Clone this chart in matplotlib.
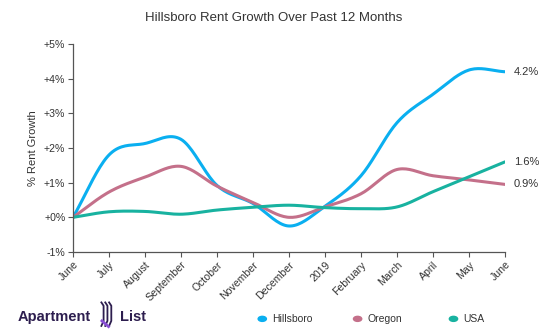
import numpy as np
import matplotlib
matplotlib.use("Agg")
import matplotlib.pyplot as plt

plt.rcParams['font.family'] = ['Liberation Sans', 'DejaVu Sans']

months = ["June", "July", "August", "September", "October", "November", "December",
          "2019", "February", "March", "April", "May", "June"]
hillsboro = [0.0, 1.8, 2.13, 2.25, 0.92, 0.4, -0.25, 0.32, 1.2, 2.73, 3.55, 4.25, 4.2]
oregon = [0.0, 0.73, 1.16, 1.47, 0.9, 0.43, 0.0, 0.3, 0.68, 1.38, 1.2, 1.08, 0.95]
usa = [0.0, 0.16, 0.17, 0.09, 0.21, 0.29, 0.35, 0.28, 0.25, 0.3, 0.74, 1.17, 1.6]
end_labels = ["4.2%", "0.9%", "1.6%"]
series_names = ["Hillsboro", "Oregon", "USA"]
colors = ["#0aaff0", "#c4708a", "#18b2a0"]
yticks = [-1, 0, 1, 2, 3, 4, 5]


def catmull(x, y, n=20):
    x = np.asarray(x, float)
    y = np.asarray(y, float)
    px = np.concatenate([[2 * x[0] - x[1]], x, [2 * x[-1] - x[-2]]])
    py = np.concatenate([[2 * y[0] - y[1]], y, [2 * y[-1] - y[-2]]])
    xs, ys = [], []
    t = np.linspace(0, 1, n, endpoint=False)
    for i in range(1, len(px) - 2):
        p0, p1, p2, p3 = py[i - 1], py[i], py[i + 1], py[i + 2]
        yy = 0.5 * ((2 * p1) + (-p0 + p2) * t + (2 * p0 - 5 * p1 + 4 * p2 - p3) * t ** 2
                    + (-p0 + 3 * p1 - 3 * p2 + p3) * t ** 3)
        xx = px[i] + (px[i + 1] - px[i]) * t
        xs.append(xx)
        ys.append(yy)
    xs.append([x[-1]])
    ys.append([y[-1]])
    return np.concatenate(xs), np.concatenate(ys)


fig = plt.figure(figsize=(5.51, 3.36), dpi=100)
ax = fig.add_axes([0.1325, 0.25, 0.784, 0.619])

x = np.arange(len(months))
data = [hillsboro, oregon, usa]
for vals, c in zip(data, colors):
    sx, sy = catmull(x, vals)
    ax.plot(sx, sy, color=c, lw=2.2, solid_capstyle='round')
for vals, c, lab in zip(data, colors, end_labels):
    ax.text(x[-1] + 0.25, vals[-1], lab, fontsize=8, color="#333333", va='center', ha='left')

ax.set_xlim(0, len(months) - 1)
ax.set_ylim(-1, 5)
ax.set_xticks(x)
ax.set_xticklabels(months, rotation=45, ha='right', rotation_mode='anchor', fontsize=7.6, color="#333333")
ax.set_yticks(yticks)
ax.set_yticklabels([f"{v:+d}%" if v != 0 else "+0%" for v in yticks], fontsize=7.6, color="#333333")
ax.tick_params(axis='both', length=3.5, width=0.8, color="#555555", pad=2)
for s in ['top', 'right']:
    ax.spines[s].set_visible(False)
for s in ['left', 'bottom']:
    ax.spines[s].set_color("#555555")
    ax.spines[s].set_linewidth(0.9)
ax.set_ylabel("% Rent Growth", fontsize=8, color="#333333", labelpad=4)

fig.text(0.497, 0.947, "Hillsboro Rent Growth Over Past 12 Months", ha='center', va='center',
         fontsize=9.5, color="#333333")

# legend
leg_x = [0.476, 0.649, 0.823]
for lx, c, name in zip(leg_x, colors, series_names):
    fig.patches.append(matplotlib.patches.Circle((lx, 0.051), 0.0075, transform=fig.transFigure,
                                                 color=c, figure=fig))
    fig.text(lx + 0.018, 0.051, name, fontsize=7.5, color="#333333", va='center', ha='left')

# brand
fig.text(0.032, 0.058, "Apartment", fontsize=10.5, color="#2d1e4f", va='center', ha='left', fontweight='bold')
fig.text(0.218, 0.058, "List", fontsize=10.5, color="#2d1e4f", va='center', ha='left', fontweight='bold')
for k in range(3):
    x0 = 0.184 + k * 0.007
    fig.add_artist(matplotlib.lines.Line2D([x0, x0 + 0.004, x0 + 0.004, x0], [0.03, 0.045, 0.09, 0.1],
                                           transform=fig.transFigure, color="#2d1e4f", lw=1.3))
fig.add_artist(matplotlib.lines.Line2D([0.185, 0.197], [0.045, 0.028], transform=fig.transFigure,
                                       color="#8a4fd6", lw=2))

fig.savefig("out.png", dpi=100, facecolor='white')
